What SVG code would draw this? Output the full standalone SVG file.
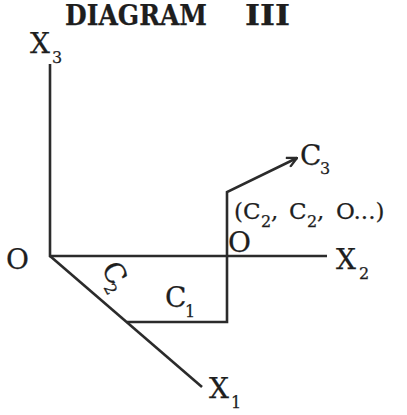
<svg xmlns="http://www.w3.org/2000/svg" width="407" height="415" viewBox="0 0 407 415">
<defs>
<style>
.ln{fill:none;stroke:#2b2b2b;stroke-width:2.6;stroke-linecap:butt;stroke-linejoin:miter}
.t{font-family:"DejaVu Serif","Liberation Serif",serif;fill:#1e1e1e;stroke:#1e1e1e;stroke-width:0.25}
.big{font-size:28px}
.mid{font-size:23px}
.sub{font-size:16px}
.ttl{font-size:27px;font-weight:bold}
</style>
<marker id="arr" viewBox="0 0 12 12" refX="11" refY="6" markerWidth="12" markerHeight="12" markerUnits="userSpaceOnUse" orient="auto">
<path d="M1,1 L11,6 L1,11" fill="none" stroke="#2b2b2b" stroke-width="2.4"/>
</marker>
</defs>
<rect width="407" height="415" fill="#fff"/>
<g id="title">
<text class="t ttl" x="65" y="25" textLength="142" lengthAdjust="spacingAndGlyphs">DIAGRAM</text>
<text class="t ttl" x="245" y="25" textLength="45" lengthAdjust="spacingAndGlyphs">III</text>
</g>
<g id="connectors">
<path class="ln" d="M50,64 V257"/>
<path class="ln" d="M49,256 H327"/>
<path class="ln" d="M50,256 L202,387"/>
<path class="ln" d="M127,322 H227 V192 L297,158" marker-end="url(#arr)"/>
</g>
<g id="x3">
<text class="t big" x="30" y="53">X</text>
<text class="t sub" x="52" y="63">3</text>
</g>
<g id="origin">
<text class="t big" x="6" y="269">O</text>
</g>
<g id="x2">
<text class="t big" x="336" y="269">X</text>
<text class="t sub" x="359" y="279">2</text>
</g>
<g id="x1">
<text class="t big" x="209" y="398">X</text>
<text class="t sub" x="231" y="408">1</text>
</g>
<g id="c3">
<text class="t big" x="300" y="165">C</text>
<text class="t sub" x="320" y="174">3</text>
</g>
<g id="o2">
<text class="t big" x="228" y="252">O</text>
</g>
<g id="point">
<text class="t mid" y="219"><tspan x="234">(C</tspan><tspan class="sub" x="261" y="227">2</tspan><tspan x="271" y="219">,</tspan><tspan x="289">C</tspan><tspan class="sub" x="307" y="227">2</tspan><tspan x="317" y="219">,</tspan><tspan x="336">O...)</tspan></text>
</g>
<g id="c1">
<text class="t big" x="165" y="307">C</text>
<text class="t sub" x="185" y="317">1</text>
</g>
<g id="c2">
<g transform="translate(101,268) rotate(62)">
<text class="t big" x="0" y="0">C</text>
<text class="t sub" x="18" y="7">2</text>
</g>
</g>
</svg>
